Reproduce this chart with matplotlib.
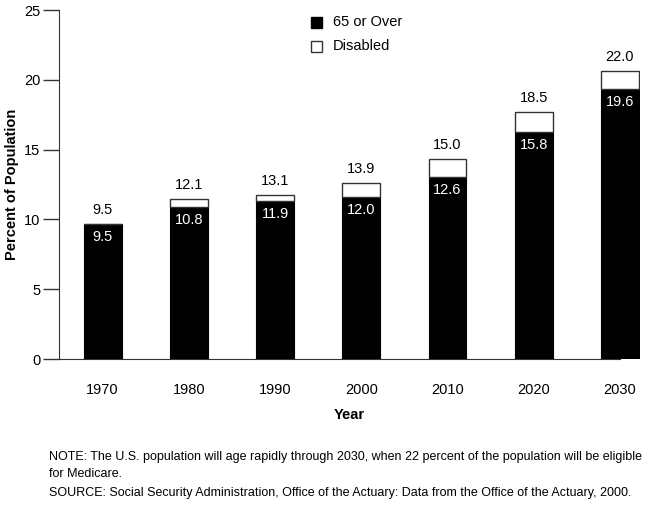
import numpy as np
import matplotlib.pyplot as plt

plt.rcParams['font.family'] = ['Liberation Sans', 'DejaVu Sans']

years = ['1970', '1980', '1990', '2000', '2010', '2020', '2030']
# bar heights as drawn in the reference
over65 = [9.67, 10.87, 11.34, 11.63, 13.04, 16.24, 19.31]
disabled = [0.0, 0.61, 0.43, 0.95, 1.26, 1.45, 1.30]
# printed labels
over65_labels = ['9.5', '10.8', '11.9', '12.0', '12.6', '15.8', '19.6']
total_labels = ['9.5', '12.1', '13.1', '13.9', '15.0', '18.5', '22.0']

x = np.arange(len(years))
fig = plt.figure(figsize=(6.46, 5.08), dpi=100)
ax = fig.add_axes([0.0913, 0.2933, 0.899, 0.687])

w = 0.44
ax.bar(x, over65, w, color='black', edgecolor='black', linewidth=0.8)
ax.bar(x, disabled, w, bottom=over65, color='white', edgecolor='#333333', linewidth=1.0)

tot = np.array(over65) + np.array(disabled)
for i in range(len(years)):
    ax.text(x[i], tot[i] + 0.5, total_labels[i], ha='center', va='bottom', fontsize=10.5)
    ax.text(x[i], over65[i] - 0.42, over65_labels[i], ha='center', va='top', fontsize=10.5, color='white')

ax.set_xlim(-0.506, 6.23)
ax.set_ylim(0, 25)
ax.set_yticks([0, 5, 10, 15, 20, 25])
ax.set_xticks(x)
ax.set_xticklabels(years, fontsize=10.5)
ax.tick_params(axis='x', length=0, pad=17.5)
ax.tick_params(axis='y', length=11.5, width=1, color='#333333', labelsize=10.5, pad=2)
ax.spines['top'].set_visible(False)
ax.spines['right'].set_visible(False)
ax.spines['left'].set_color('#333333')
ax.spines['bottom'].set_color('#333333')
ax.spines['bottom'].set_bounds(-0.506, 6.0)

ax.set_xlabel('Year', fontsize=10.5, fontweight='bold', labelpad=8)
ax.set_ylabel('Percent of Population', fontsize=10.5, fontweight='bold')
ax.yaxis.set_label_coords(-0.068, 0.5)

# legend
fig.patches.append(plt.Rectangle((310.5/646, 1-28.3/508), 11.7/646, 11.7/508, transform=fig.transFigure,
                                 facecolor='black', edgecolor='black'))
fig.patches.append(plt.Rectangle((310.5/646, 1-52.3/508), 11.7/646, 11.7/508, transform=fig.transFigure,
                                 facecolor='white', edgecolor='#333333', linewidth=1))
fig.text(333/646, 1-22.5/508, '65 or Over', fontsize=10.5, va='center')
fig.text(333/646, 1-46/508, 'Disabled', fontsize=10.5, va='center')

fig.text(49/646, 1-457/508, 'NOTE: The U.S. population will age rapidly through 2030, when 22 percent of the population will be eligible',
         fontsize=9, va='center')
fig.text(49/646, 1-474/508, 'for Medicare.', fontsize=9, va='center')
fig.text(49/646, 1-493/508, 'SOURCE: Social Security Administration, Office of the Actuary: Data from the Office of the Actuary, 2000.',
         fontsize=9, va='center')

fig.savefig('out.png', dpi=100)
